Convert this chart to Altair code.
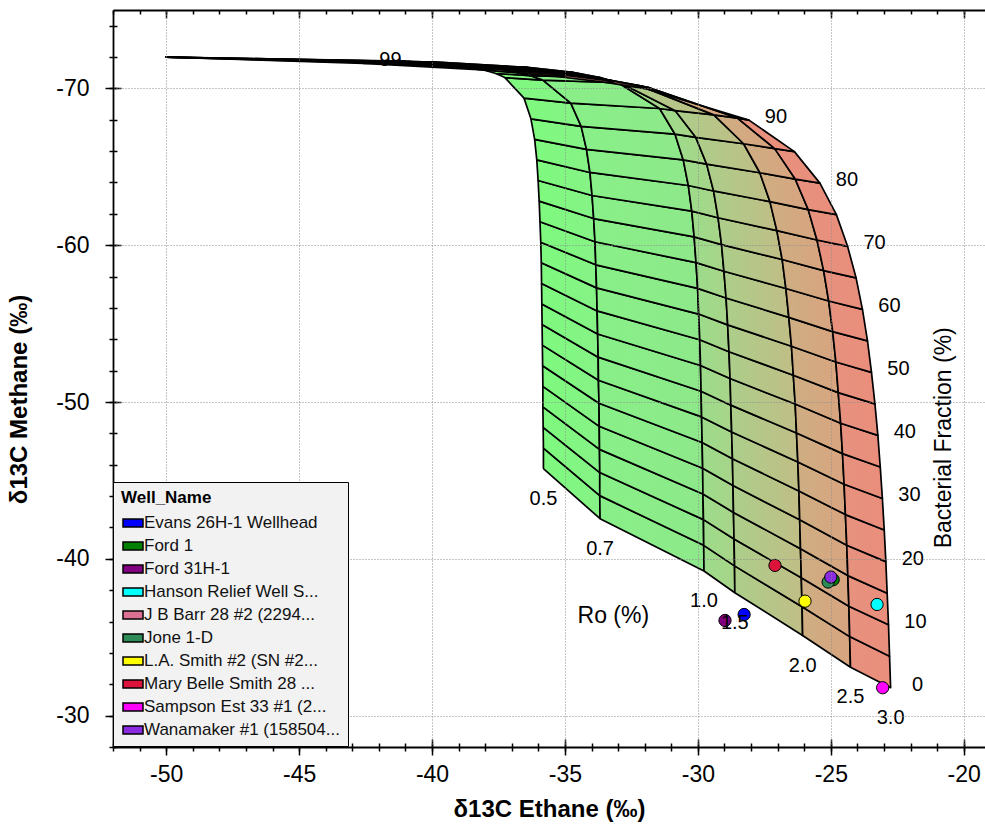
import altair as alt
import pandas as pd

FONT = "Liberation Sans, Arial, sans-serif"

# ---------------- data ----------------
FRACTION = [0, 5, 10, 15, 20, 25, 30, 35, 40, 45, 50, 55, 60, 65, 70, 75, 80, 85, 90, 95, 96, 97, 98, 99, 100]
RO_LEVELS = ["0.5", "0.7", "1.0", "1.5", "2.0", "2.5", "3.0"]

ETHANE_05 = [-35.81, -35.81, -35.82, -35.83, -35.83, -35.84, -35.85, -35.86, -35.87, -35.88, -35.89, -35.91, -35.94,
             -35.97, -36.01, -36.06, -36.14, -36.28, -36.54, -37.26, -37.60, -38.12, -39.03, -41.10, -50.00]
METHANE_05 = [-45.75, -47.06, -48.38, -49.69, -51.00, -52.31, -53.63, -54.94, -56.25, -57.56, -58.88, -60.19, -61.50,
              -62.81, -64.13, -65.44, -66.75, -68.06, -69.38, -70.69, -70.95, -71.21, -71.48, -71.74, -72.00]

ETHANE_07 = [-33.68, -33.69, -33.69, -33.70, -33.71, -33.72, -33.74, -33.75, -33.77, -33.79, -33.81, -33.84, -33.87,
             -33.92, -33.98, -34.06, -34.19, -34.39, -34.78, -35.83, -36.31, -37.03, -38.28, -40.89, -50.00]
METHANE_07 = [-42.56, -44.03, -45.50, -46.98, -48.45, -49.92, -51.39, -52.86, -54.34, -55.81, -57.28, -58.75, -60.22,
              -61.70, -63.17, -64.64, -66.11, -67.58, -69.06, -70.53, -70.82, -71.12, -71.41, -71.71, -72.00]

ETHANE_10 = [-29.77, -29.78, -29.79, -29.81, -29.82, -29.84, -29.86, -29.88, -29.90, -29.93, -29.97, -30.01, -30.07,
             -30.14, -30.23, -30.36, -30.55, -30.86, -31.44, -33.00, -33.68, -34.71, -36.42, -39.83, -50.00]
METHANE_10 = [-39.22, -40.86, -42.50, -44.14, -45.78, -47.42, -49.05, -50.69, -52.33, -53.97, -55.61, -57.25, -58.89,
              -60.53, -62.17, -63.81, -65.44, -67.08, -68.72, -70.36, -70.69, -71.02, -71.34, -71.67, -72.00]

ETHANE_15 = [-28.61, -28.62, -28.64, -28.66, -28.68, -28.70, -28.73, -28.76, -28.79, -28.83, -28.88, -28.94, -29.02,
             -29.11, -29.24, -29.41, -29.67, -30.08, -30.85, -32.85, -33.70, -34.94, -36.93, -40.65, -50.00]
METHANE_15 = [-37.84, -39.55, -41.26, -42.96, -44.67, -46.38, -48.09, -49.80, -51.50, -53.21, -54.92, -56.63, -58.34,
              -60.04, -61.75, -63.46, -65.17, -66.88, -68.58, -70.29, -70.63, -70.98, -71.32, -71.66, -72.00]

ETHANE_20 = [-26.06, -26.08, -26.11, -26.14, -26.17, -26.20, -26.24, -26.29, -26.34, -26.41, -26.48, -26.58, -26.69,
             -26.83, -27.03, -27.29, -27.67, -28.28, -29.40, -32.16, -33.28, -34.87, -37.28, -41.39, -50.00]
METHANE_20 = [-35.11, -36.95, -38.80, -40.64, -42.49, -44.33, -46.18, -48.02, -49.87, -51.71, -53.56, -55.40, -57.24,
              -59.09, -60.93, -62.78, -64.62, -66.47, -68.31, -70.16, -70.52, -70.89, -71.26, -71.63, -72.00]

ETHANE_25 = [-24.26, -24.29, -24.32, -24.36, -24.40, -24.45, -24.50, -24.56, -24.63, -24.72, -24.81, -24.93, -25.08,
             -25.27, -25.52, -25.85, -26.34, -27.11, -28.51, -31.85, -33.15, -34.96, -37.61, -41.90, -50.00]
METHANE_25 = [-33.09, -35.04, -36.98, -38.93, -40.87, -42.82, -44.76, -46.71, -48.65, -50.60, -52.55, -54.49, -56.44,
              -58.38, -60.33, -62.27, -64.22, -66.16, -68.11, -70.05, -70.44, -70.83, -71.22, -71.61, -72.00]

ETHANE_30 = [-22.75, -22.79, -22.83, -22.88, -22.93, -22.99, -23.06, -23.14, -23.23, -23.34, -23.47, -23.62, -23.81,
             -24.05, -24.37, -24.79, -25.41, -26.37, -28.08, -31.99, -33.46, -35.45, -38.27, -42.58, -50.00]
METHANE_30 = [-31.78, -33.79, -35.80, -37.81, -39.82, -41.84, -43.85, -45.86, -47.87, -49.88, -51.89, -53.90, -55.91,
              -57.92, -59.93, -61.95, -63.96, -65.97, -67.98, -69.99, -70.39, -70.79, -71.20, -71.60, -72.00]

# strip colours (left curve -> right curve)
STRIP_LEFT = ["#7EFA7E", "#88F088", "#9CDC8A", "#ACCE8A", "#CEAE82", "#E6927E"]
STRIP_RIGHT = ["#86F286", "#8EE88A", "#A8D48A", "#C0BE86", "#D8A480", "#EA8E7C"]

BACT_LABEL_FRACTIONS = [0, 10, 20, 30, 40, 50, 60, 70, 80, 90, 99]

WELLS = ["Evans 26H-1 Wellhead", "Ford 1", "Ford 31H-1", "Hanson Relief Well S...", "J B Barr 28 #2 (2294...",
         "Jone 1-D", "L.A. Smith #2 (SN #2...", "Mary Belle Smith 28 ...", "Sampson Est 33 #1 (2...",
         "Wanamaker #1 (158504..."]
WELL_COLORS = ["#0000FF", "#008000", "#800080", "#00FFFF", "#DB7093", "#2E8B57", "#FFFF00", "#DC143C", "#FF00FF",
               "#8A2BE2"]
POINT_WELLS = ["Evans 26H-1 Wellhead", "Ford 1", "Ford 31H-1", "Hanson Relief Well S...", "Jone 1-D",
               "L.A. Smith #2 (SN #2...", "Mary Belle Smith 28 ...", "Sampson Est 33 #1 (2...",
               "Wanamaker #1 (158504..."]
POINT_ETHANE = [-28.26, -24.91, -28.98, -23.26, -25.10, -25.97, -27.10, -23.05, -25.00]
POINT_METHANE = [-36.45, -38.67, -36.07, -37.09, -38.52, -37.30, -39.58, -31.78, -38.84]

NOTE_TEXT = ["Ro (%)", "Bacterial Fraction (%)"]
NOTE_ETHANE = [-33.18, -20.75]
NOTE_METHANE = [-36.35, -47.72]
NOTE_ANGLE = [0, 270]

X_MAJOR = [-50, -45, -40, -35, -30, -25, -20]
X_MINOR = list(range(-52, -19))
Y_MAJOR = [-70, -60, -50, -40, -30]
Y_MINOR = list(range(-74, -27, 2))

# ---------------- tables ----------------
CURVES = [(ETHANE_05, METHANE_05), (ETHANE_07, METHANE_07), (ETHANE_10, METHANE_10), (ETHANE_15, METHANE_15),
          (ETHANE_20, METHANE_20), (ETHANE_25, METHANE_25), (ETHANE_30, METHANE_30)]

cell_rows = []
for s in range(len(CURVES) - 1):
    le, lm = CURVES[s]
    rr, rm = CURVES[s + 1]
    for j in range(len(FRACTION) - 1):
        quad = [(le[j], lm[j]), (rr[j], rm[j]), (rr[j + 1], rm[j + 1]), (le[j + 1], lm[j + 1]), (le[j], lm[j])]
        for vi, (e, m) in enumerate(quad):
            cell_rows.append({"strip": s, "cell": f"{s}-{j}", "vi": vi, "ethane": e, "methane": m})
cells = pd.DataFrame(cell_rows)

ro_df = pd.DataFrame({"label": RO_LEVELS, "ethane": [c[0][0] for c in CURVES], "methane": [c[1][0] for c in CURVES]})
idx = [FRACTION.index(v) for v in BACT_LABEL_FRACTIONS]
bact_df = pd.DataFrame({"label": [str(v) for v in BACT_LABEL_FRACTIONS],
                        "ethane": [ETHANE_30[i] for i in idx], "methane": [METHANE_30[i] for i in idx]})
wells_df = pd.DataFrame({"well": POINT_WELLS, "ethane": POINT_ETHANE, "methane": POINT_METHANE})
notes_df = pd.DataFrame({"text": NOTE_TEXT, "ethane": NOTE_ETHANE, "methane": NOTE_METHANE, "angle": NOTE_ANGLE})

X_SCALE = alt.Scale(domain=[-52, -19.2], nice=False, zero=False)
Y_SCALE = alt.Scale(domain=[-75, -28], nice=False, zero=False, reverse=True)


def xenc(axis=None):
    return alt.X("ethane:Q", scale=X_SCALE, axis=axis)


def yenc(axis=None):
    return alt.Y("methane:Q", scale=Y_SCALE, axis=axis)


# ---------------- mesh ----------------
mesh_layers = []
for s in range(len(CURVES) - 1):
    grad = alt.LinearGradient(gradient="linear",
                              stops=[alt.GradientStop(color=STRIP_LEFT[s], offset=0),
                                     alt.GradientStop(color=STRIP_RIGHT[s], offset=1)],
                              x1=0, x2=1, y1=0, y2=0)
    mesh_layers.append(
        alt.Chart(cells[cells["strip"] == s]).mark_line(
            fill=grad, stroke="black", strokeWidth=1.7, strokeJoin="round"
        ).encode(x=xenc(), y=yenc(), detail="cell:N", order=alt.Order("vi:Q"))
    )

points = alt.Chart(wells_df).mark_point(
    shape="circle", filled=True, size=150, opacity=1, stroke="black", strokeWidth=1
).encode(
    x=xenc(), y=yenc(),
    color=alt.Color("well:N", scale=alt.Scale(domain=WELLS, range=WELL_COLORS), legend=alt.Legend(
        title="Well_Name", orient="none", legendX=0, legendY=472, zindex=2,
        titleFont=FONT, titleFontSize=17, titleFontWeight="bold", titleColor="black", titlePadding=5,
        labelFont=FONT, labelFontSize=17, labelColor="#111111", labelLimit=500,
        labelExpr="datum.label + '\u00a0\u00a0'",
        symbolType="M-1,-0.4H1V0.4H-1Z", symbolSize=400, symbolStrokeColor="black", symbolStrokeWidth=1.5,
        symbolOpacity=1, symbolOffset=1, labelOffset=0, rowPadding=4, padding=8,
        fillColor="#F2F2F2", strokeColor="black"))
)

ro_text = alt.Chart(ro_df).mark_text(font=FONT, fontSize=20, color="black", dy=30).encode(
    x=xenc(), y=yenc(), text="label:N")
bact_text = alt.Chart(bact_df).mark_text(font=FONT, fontSize=20, color="black", dx=27, dy=-3).encode(
    x=xenc(), y=yenc(), text="label:N")
notes = alt.Chart(notes_df).mark_text(font=FONT, fontSize=23, color="black").encode(
    x=xenc(), y=yenc(), text="text:N", angle=alt.Angle("angle:Q", scale=None))

# ---------------- axes (invisible guide layers) ----------------
LBL = "'' + datum.value"


def guide(xa, ya):
    return alt.Chart(wells_df).mark_point(opacity=0).encode(x=xenc(xa), y=yenc(ya))


guides = [
    guide(alt.Axis(orient="bottom", values=X_MAJOR, title="δ13C Ethane (‰)", labelExpr=LBL, tickSize=8,
                   labelPadding=8, titlePadding=11, titleFontSize=24, grid=True, zindex=1),
          alt.Axis(orient="left", values=Y_MAJOR, title="δ13C Methane (‰)", labelExpr=LBL, tickSize=8,
                   labelPadding=16, titlePadding=24, titleFontSize=24, titleY=389, grid=True, zindex=1)),
    guide(alt.Axis(orient="bottom", values=X_MINOR, title=None, labels=False, domain=False, tickSize=4),
          alt.Axis(orient="left", values=Y_MINOR, title=None, labels=False, domain=False, tickSize=4)),
    guide(alt.Axis(orient="bottom", values=X_MAJOR, title=None, labels=False, domain=False, tickSize=8, offset=-8),
          alt.Axis(orient="left", values=Y_MAJOR, title=None, labels=False, domain=False, tickSize=8, offset=-8)),
    guide(alt.Axis(orient="bottom", values=X_MINOR, title=None, labels=False, domain=False, tickSize=4, offset=-4),
          alt.Axis(orient="left", values=Y_MINOR, title=None, labels=False, domain=False, tickSize=4, offset=-4)),
    guide(alt.Axis(orient="top", values=X_MAJOR, title=None, labels=False, domain=False, tickSize=8, offset=-8),
          None),
    guide(alt.Axis(orient="top", values=X_MINOR, title=None, labels=False, domain=False, tickSize=4, offset=-4),
          None),
    guide(alt.Axis(orient="top", values=X_MAJOR, title=None, labels=False, domain=True, ticks=False), None),
]

chart = alt.layer(*mesh_layers, points, ro_text, bact_text, notes, *guides).resolve_axis(
    x="independent", y="independent"
).properties(
    width=872, height=737,
    autosize=alt.AutoSizeParams(type="none"),
    padding={"left": 113, "top": 10, "right": 0, "bottom": 77},
).configure_view(strokeOpacity=0).configure_axis(
    labelFont=FONT, labelFontSize=23, labelColor="black",
    titleFont=FONT, titleFontSize=23, titleFontWeight="bold", titleColor="black",
    tickColor="black", tickWidth=1.5, domainColor="black", domainWidth=1.8,
    grid=False, gridColor="#8a8a8a", gridDash=[1, 2], gridWidth=1,
)

chart.save("out.html", embed_options={"renderer": "svg", "actions": False})
